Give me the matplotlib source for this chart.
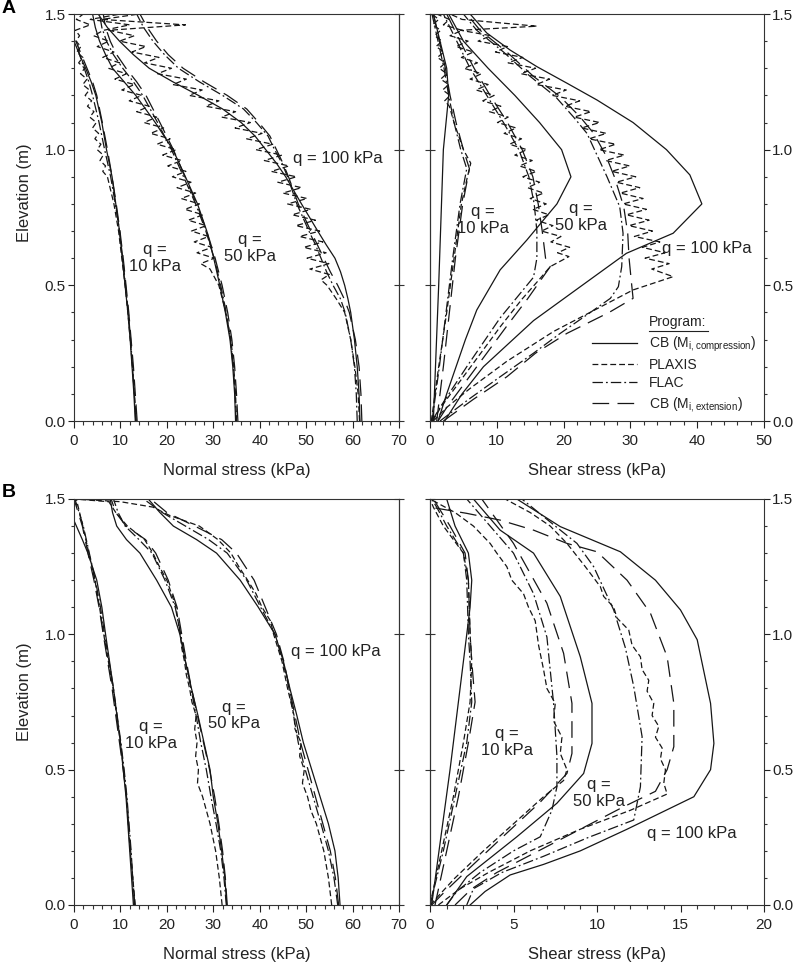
import matplotlib
matplotlib.use("Agg")
import matplotlib.pyplot as plt
from matplotlib.ticker import MultipleLocator, FormatStrFormatter, NullLocator

plt.rcParams['font.family'] = ['Liberation Sans', 'DejaVu Sans']
plt.rcParams['mathtext.fontset'] = 'custom'
plt.rcParams['mathtext.rm'] = 'Liberation Sans'
plt.rcParams['lines.scale_dashes'] = False

# ---------------- A: normal stress ----------------
an10_z = [0.0, 0.1, 0.2, 0.3, 0.4, 0.5, 0.6, 0.7, 0.8, 0.9, 1.0, 1.1, 1.2, 1.25, 1.3, 1.35, 1.4]
an10_cb = [13.2, 12.9, 12.5, 12.1, 11.6, 11.0, 10.4, 9.8, 9.0, 8.2, 7.0, 6.0, 4.7, 3.7, 2.5, 1.2, 0.0]
an10_flac = [13.3, 13.0, 12.6, 12.2, 11.7, 11.1, 10.5, 9.8, 8.9, 7.9, 6.6, 5.4, 4.0, 3.2, 2.2, 1.2, 0.6]
an10_ext = [13.6, 13.2, 12.8, 12.3, 11.8, 11.2, 10.6, 9.9, 9.1, 8.2, 7.2, 6.1, 4.9, 4.0, 2.8, 1.6, 0.4]
an10_px_z = [0.0, 0.1, 0.2, 0.3, 0.4, 0.5, 0.6, 0.7, 0.8, 0.9, 0.92, 0.94, 0.96, 0.98, 1.0,
             1.02, 1.04, 1.06, 1.08, 1.1, 1.12, 1.14, 1.16, 1.18, 1.2, 1.22, 1.24, 1.26, 1.28, 1.3,
             1.32, 1.34, 1.36, 1.38, 1.4, 1.42, 1.44, 1.46, 1.48, 1.5]
an10_px = [13.4, 13.0, 12.6, 12.1, 11.6, 11.0, 10.3, 9.6, 8.6, 7.2, 6.2, 6.8, 5.6, 6.3, 5.0,
           5.8, 4.5, 5.3, 4.0, 4.8, 3.4, 4.3, 2.9, 3.8, 2.4, 3.3, 1.9, 2.8, 1.4, 2.3,
           1.0, 1.9, 0.6, 1.5, 0.4, 1.2, 0.3, 3.5, 0.5, 2.0]

an50_z = [0.0, 0.1, 0.2, 0.3, 0.4, 0.5, 0.6, 0.7, 0.8, 0.9, 1.0, 1.1, 1.2, 1.25, 1.3, 1.35, 1.4, 1.45, 1.5]
an50_cb = [34.8, 34.6, 34.2, 33.6, 32.6, 31.4, 30.1, 28.6, 26.6, 24.0, 21.3, 17.5, 13.3, 10.8, 8.3, 6.8, 5.5, 4.6, 4.0]
an50_flac = [34.9, 34.7, 34.3, 33.7, 32.8, 31.6, 30.2, 28.4, 26.2, 23.6, 21.0, 18.0, 14.8, 12.8, 10.5, 8.5, 7.0, 6.0, 5.5]
an50_ext = [35.3, 35.0, 34.6, 34.0, 33.1, 31.9, 30.4, 28.6, 26.4, 23.9, 21.4, 18.5, 15.5, 13.5, 11.2, 9.2, 7.8, 6.8, 6.3]
an50_px_z = [0.0, 0.1, 0.2, 0.3, 0.4, 0.5,
             0.56, 0.58, 0.60, 0.62, 0.64, 0.66, 0.68, 0.70, 0.72, 0.74, 0.76, 0.78, 0.80,
             0.82, 0.84, 0.86, 0.88, 0.90, 0.92, 0.94, 0.96, 0.98, 1.00,
             1.02, 1.04, 1.06, 1.08, 1.10, 1.12, 1.14, 1.16, 1.18, 1.20,
             1.22, 1.24, 1.26, 1.28, 1.30, 1.32, 1.34, 1.36, 1.38, 1.40,
             1.42, 1.44, 1.46, 1.48, 1.50]
an50_px = [35.0, 34.8, 34.4, 33.8, 32.7, 31.2,
           29.3, 27.3, 30.2, 26.5, 29.7, 25.9, 29.0, 25.3, 28.5, 24.6, 27.8, 23.9, 27.0,
           23.1, 26.2, 22.2, 25.2, 21.2, 24.1, 20.2, 23.2, 19.1, 22.0,
           17.9, 20.7, 16.5, 19.3, 15.1, 17.8, 13.5, 16.2, 11.9, 14.6,
           10.3, 13.0, 8.8, 11.3, 7.4, 9.8, 6.2, 8.6, 5.0, 7.5,
           4.2, 6.4, 12.0, 3.5, 10.0]

an100_z = [0.0, 0.1, 0.2, 0.3, 0.4, 0.45, 0.5, 0.55, 0.6, 0.65, 0.7, 0.8, 0.9, 0.95, 1.0,
           1.05, 1.1, 1.15, 1.2, 1.25, 1.3, 1.35, 1.4, 1.45, 1.5]
an100_cb = [61.6, 61.4, 61.0, 60.4, 59.6, 59.0, 58.3, 57.4, 56.2, 54.3, 52.5, 49.0, 45.6, 43.6, 41.3,
            39.0, 36.0, 32.0, 26.8, 21.3, 16.2, 12.8, 9.8, 7.2, 5.2]
an100_flac = [61.0, 60.8, 60.4, 59.6, 58.4, 57.4, 55.8, 54.4, 53.2, 52.0, 50.6, 48.0, 46.0, 44.8, 43.2,
              41.8, 39.3, 36.5, 32.0, 27.0, 22.5, 19.5, 17.0, 15.0, 13.5]
an100_ext = [62.0, 61.8, 61.4, 60.6, 59.3, 58.2, 56.8, 55.2, 53.8, 52.4, 51.0, 48.3, 46.2, 45.0, 43.6,
             42.2, 39.8, 37.2, 33.0, 28.0, 23.5, 20.3, 17.8, 15.8, 14.2]
an100_px_z = [0.0, 0.1, 0.2, 0.3, 0.4, 0.45, 0.50,
              0.52, 0.54, 0.56, 0.58, 0.60, 0.62, 0.64, 0.66, 0.68, 0.70, 0.72, 0.74, 0.76, 0.78, 0.80,
              0.82, 0.84, 0.86, 0.88, 0.90, 0.92, 0.94, 0.96, 0.98, 1.00,
              1.02, 1.04, 1.06, 1.08, 1.10, 1.12, 1.14, 1.16, 1.18, 1.20,
              1.22, 1.24, 1.26, 1.28, 1.30, 1.32, 1.34, 1.36, 1.38, 1.40,
              1.42, 1.44, 1.46, 1.48, 1.50]
an100_px = [61.5, 61.2, 60.5, 59.6, 58.3, 56.5, 54.5,
            53.2, 55.0, 50.8, 54.9, 50.2, 54.3, 49.5, 53.6, 48.6, 52.9, 47.8, 52.0, 47.0, 51.0, 46.0,
            50.2, 45.0, 49.0, 43.9, 47.9, 42.5, 46.3, 41.0, 44.8, 39.2,
            42.8, 37.2, 40.5, 34.7, 38.0, 31.8, 34.8, 28.4, 31.2, 24.8,
            27.6, 21.3, 24.2, 18.0, 21.0, 15.2, 18.3, 12.5, 15.5, 9.8,
            13.0, 7.5, 24.0, 6.0, 14.0]

# ---------------- A: shear stress ----------------
as10_cb_z = [0.0, 0.5, 1.0, 1.1, 1.2, 1.3, 1.4, 1.5]
as10_cb = [0.5, 1.3, 2.0, 2.4, 2.8, 2.5, 1.5, 0.5]
as10_z = [0.0, 0.2, 0.4, 0.6, 0.8, 0.93, 1.0, 1.1, 1.2, 1.3, 1.4, 1.5]
as10_flac = [0.3, 1.4, 2.4, 3.4, 4.5, 5.5, 4.6, 3.6, 2.8, 2.1, 1.2, 0.3]
as10_ext = [1.0, 2.0, 2.9, 3.8, 4.9, 5.9, 5.0, 3.9, 3.0, 2.3, 1.4, 0.5]
as10_px_z = [0.0, 0.2, 0.4, 0.6, 0.8, 0.9, 0.95, 1.0, 1.1, 1.16, 1.18, 1.2, 1.22, 1.24,
             1.26, 1.28, 1.3, 1.32, 1.34, 1.36, 1.38, 1.4, 1.42, 1.44, 1.46, 1.48, 1.5]
as10_px = [0.2, 1.3, 2.5, 3.6, 4.7, 5.6, 6.1, 5.0, 3.6, 2.9, 2.2, 3.0, 1.9, 2.8,
           1.6, 2.5, 1.4, 2.3, 1.1, 2.1, 0.9, 1.8, 0.7, 1.6, 0.4, 1.3, 0.3]

as50_cb_z = [0.0, 0.1, 0.2, 0.3, 0.409, 0.557, 0.667, 0.75, 0.80, 0.90, 1.0, 1.1, 1.2, 1.3, 1.4, 1.5]
as50_cb = [1.2, 2.5, 3.9, 5.3, 7.0, 10.5, 14.5, 17.3, 19.0, 21.1, 19.7, 16.4, 12.7, 8.7, 5.0, 2.8]
as50_flac_z = [0.0, 0.05, 0.2, 0.38, 0.53, 0.6, 0.7, 0.8, 0.9, 1.0, 1.1, 1.2, 1.3, 1.4, 1.5]
as50_flac = [0.3, 1.5, 5.5, 10.5, 15.5, 16.0, 16.0, 15.6, 14.8, 13.3, 11.0, 8.5, 6.0, 4.0, 2.0]
as50_ext_z = [0.0, 0.05, 0.15, 0.25, 0.35, 0.45, 0.569, 0.6, 0.7, 0.8, 0.9, 1.0, 1.1, 1.2, 1.3, 1.4, 1.5]
as50_ext = [1.2, 2.5, 5.5, 8.5, 11.5, 14.6, 18.0, 17.3, 16.8, 16.2, 15.4, 13.8, 11.6, 9.0, 6.6, 4.5, 2.5]
as50_px_z = [0.0, 0.05, 0.15, 0.25, 0.35, 0.45, 0.52, 0.569, 0.606,
             0.62, 0.64, 0.66, 0.68, 0.70, 0.72, 0.74, 0.76, 0.78, 0.80,
             0.82, 0.84, 0.86, 0.88, 0.90, 0.92, 0.94, 0.96, 0.98, 1.00,
             1.02, 1.04, 1.06, 1.08, 1.10, 1.12, 1.14, 1.16, 1.18, 1.20,
             1.22, 1.24, 1.26, 1.28, 1.30, 1.32, 1.34, 1.36, 1.38, 1.40,
             1.42, 1.44, 1.46, 1.48, 1.50]
as50_px = [0.4, 1.6, 4.6, 7.6, 10.6, 13.8, 16.3, 18.0, 20.8,
           19.1, 20.9, 18.1, 19.6, 16.7, 18.4, 15.9, 17.8, 15.4, 17.4,
           15.0, 17.0, 14.6, 16.4, 13.9, 15.9, 13.4, 15.3, 12.7, 14.5,
           11.9, 13.7, 11.1, 12.9, 10.1, 11.7, 8.9, 10.6, 7.9, 9.6,
           6.9, 8.7, 6.0, 7.7, 5.1, 7.1, 4.7, 6.5, 3.9, 5.7,
           3.0, 4.8, 2.0, 2.9, 1.0]

as100_cb_z = [0.0, 0.1, 0.2, 0.37, 0.495, 0.618, 0.692, 0.80, 0.907, 1.0, 1.1, 1.183, 1.245,
              1.306, 1.367, 1.43, 1.5]
as100_cb = [2.2, 4.8, 8.0, 15.5, 22.5, 29.4, 36.4, 40.7, 38.9, 35.4, 30.4, 25.0, 20.5,
            16.0, 12.0, 8.5, 6.0]
as100_flac_z = [0.0, 0.08, 0.163, 0.25, 0.323, 0.40, 0.452, 0.495, 0.569, 0.692, 0.79, 0.9, 0.98,
                1.06, 1.12, 1.195, 1.27, 1.36, 1.44, 1.5]
as100_flac = [1.5, 5.8, 10.5, 15.5, 19.5, 24.0, 27.0, 28.2, 28.7, 28.9, 28.4, 26.5, 25.0,
              23.5, 21.5, 18.8, 15.0, 11.0, 7.0, 5.0]
as100_ext_z = [0.0, 0.08, 0.163, 0.25, 0.323, 0.40, 0.452, 0.5, 0.6, 0.692, 0.79, 0.9, 0.98,
               1.06, 1.12, 1.195, 1.27, 1.36, 1.44, 1.5]
as100_ext = [2.0, 6.5, 11.5, 15.8, 20.5, 26.8, 30.4, 30.2, 29.8, 29.6, 29.0, 27.6, 26.3,
             24.5, 22.5, 19.5, 15.5, 11.5, 7.5, 5.5]
as100_px_z = [0.0, 0.05, 0.12, 0.22, 0.33, 0.42, 0.483, 0.532,
              0.56, 0.58, 0.60, 0.62, 0.64, 0.66, 0.68, 0.70, 0.72, 0.74, 0.76, 0.78, 0.80,
              0.82, 0.84, 0.86, 0.88, 0.90, 0.92, 0.94, 0.96, 0.98, 1.00,
              1.02, 1.04, 1.06, 1.08, 1.10, 1.12, 1.14, 1.16, 1.18, 1.20,
              1.22, 1.24, 1.26, 1.28, 1.30, 1.32, 1.34, 1.36, 1.38, 1.40,
              1.42, 1.44, 1.455, 1.48, 1.50]
as100_px = [0.5, 2.5, 6.0, 11.5, 18.5, 25.5, 30.4, 36.4,
            33.2, 35.8, 32.2, 35.2, 31.8, 34.4, 30.6, 33.3, 29.8, 32.8, 29.4, 32.4, 28.9,
            31.9, 28.5, 31.4, 27.9, 30.8, 27.2, 29.9, 26.3, 29.1, 25.3,
            27.8, 23.8, 26.4, 22.7, 25.4, 21.6, 24.1, 20.2, 22.4, 18.3,
            20.4, 15.9, 17.9, 13.6, 15.8, 11.7, 13.9, 9.8, 11.6, 7.2,
            9.1, 4.6, 16.0, 4.8, 3.0]

# ---------------- B: normal stress ----------------
bn10_cb_z = [0.0, 0.2, 0.4, 0.5, 0.6, 0.8, 1.0, 1.1, 1.2, 1.3, 1.35, 1.42]
bn10_cb = [12.8, 12.0, 11.2, 10.6, 10.0, 8.5, 6.8, 6.0, 4.9, 3.0, 1.8, 0.0]
bn10_z = [0.0, 0.2, 0.4, 0.5, 0.6, 0.8, 1.0, 1.1, 1.2, 1.3, 1.4, 1.5]
bn10_flac = [13.0, 12.3, 11.4, 10.8, 10.1, 8.5, 6.6, 5.7, 4.6, 3.3, 2.0, 0.2]
bn10_ext = [13.1, 12.2, 11.3, 10.6, 9.8, 8.2, 6.3, 5.4, 4.3, 3.0, 1.8, 0.0]
bn10_px = [13.2, 12.1, 11.3, 10.7, 10.0, 8.4, 6.4, 5.5, 4.5, 3.2, 1.9, 0.5]

bn50_z = [0.0, 0.1, 0.2, 0.3, 0.4, 0.5, 0.6, 0.7, 0.8, 0.9, 1.0, 1.1, 1.2, 1.3, 1.35, 1.4, 1.45, 1.5]
bn50_cb = [32.9, 32.5, 31.8, 31.0, 30.0, 29.3, 28.0, 26.7, 25.3, 24.0, 22.8, 21.0, 17.8, 14.2, 11.3, 9.2, 8.3, 7.8]
bn50_ext = [33.0, 32.6, 32.0, 31.2, 30.3, 29.2, 27.9, 26.6, 25.3, 24.2, 23.2, 22.2, 20.3, 17.6, 15.4, 11.2, 9.0, 8.0]
bn50_flac = [32.8, 32.3, 31.6, 30.6, 29.5, 28.5, 27.3, 26.3, 25.2, 24.0, 23.0, 21.8, 19.6, 16.8, 14.0, 11.0, 9.5, 8.5]
bn50_px_z = [0.0, 0.1, 0.2, 0.3, 0.4, 0.45, 0.5, 0.55, 0.6, 0.65, 0.7, 0.75, 0.8, 0.85, 0.9, 0.95,
             1.0, 1.05, 1.1, 1.15, 1.2, 1.25, 1.3, 1.35, 1.4, 1.45, 1.49, 1.5]
bn50_px = [31.9, 31.3, 30.5, 29.3, 27.7, 26.6, 26.8, 26.2, 26.5, 26.0, 26.3, 25.4, 24.9, 24.2, 23.8, 23.2,
           22.9, 22.4, 22.0, 21.0, 20.0, 18.4, 17.0, 15.2, 11.5, 9.0, 7.5, 0.0]

bn100_z = [0.0, 0.1, 0.2, 0.3, 0.4, 0.5, 0.6, 0.7, 0.8, 0.9, 1.0, 1.1, 1.2, 1.3, 1.35, 1.4, 1.45, 1.5]
bn100_cb = [57.3, 56.9, 56.2, 54.8, 53.0, 51.2, 49.4, 48.0, 46.5, 45.1, 43.3, 39.7, 35.8, 30.7, 26.4, 21.4, 18.5, 16.0]
bn100_ext = [57.0, 56.3, 55.2, 53.6, 52.0, 50.4, 48.8, 47.6, 46.4, 45.2, 43.6, 41.2, 38.8, 35.0, 31.8, 26.0, 20.0, 16.5]
bn100_flac = [56.8, 56.0, 54.8, 53.2, 51.5, 49.8, 48.3, 47.3, 46.3, 45.0, 43.3, 40.2, 37.2, 33.0, 29.0, 24.0, 19.0, 15.0]
bn100_px_z = [0.0, 0.1, 0.2, 0.3, 0.35, 0.4, 0.45, 0.5, 0.55, 0.6, 0.65, 0.7, 0.8, 0.9, 1.0, 1.05,
              1.1, 1.15, 1.2, 1.25, 1.3, 1.35, 1.4, 1.44, 1.47, 1.49, 1.5]
bn100_px = [55.5, 54.8, 53.8, 52.2, 51.0, 50.3, 49.2, 49.6, 48.6, 48.9, 47.6, 47.4, 46.0, 44.8, 43.0, 42.3,
            40.5, 39.2, 37.4, 35.5, 33.8, 31.0, 27.0, 20.5, 17.0, 10.0, 0.5]

# ---------------- B: shear stress ----------------
bs10_cb_z = [0.0, 0.5, 1.0, 1.1, 1.2, 1.3, 1.4, 1.5]
bs10_cb = [0.1, 1.2, 2.2, 2.4, 2.5, 2.3, 1.5, 1.0]
bs10_z = [0.0, 0.2, 0.4, 0.6, 0.75, 0.9, 1.0, 1.2, 1.3, 1.4, 1.47, 1.5]
bs10_ext = [0.3, 1.0, 1.7, 2.3, 2.7, 2.5, 2.4, 2.3, 2.1, 1.2, 0.5, 0.2]
bs10_flac = [0.0, 0.8, 1.5, 2.2, 2.5, 2.4, 2.3, 2.2, 2.0, 1.0, 0.4, 0.1]
bs10_px = [0.0, 0.7, 1.4, 2.0, 2.4, 2.5, 2.4, 2.3, 2.0, 0.8, 0.2, 0.0]

bs50_cb_z = [0.0, 0.105, 0.252, 0.376, 0.486, 0.597, 0.745, 0.917, 1.14, 1.3, 1.385, 1.5]
bs50_cb = [1.0, 2.2, 5.2, 7.6, 9.2, 9.7, 9.7, 9.0, 7.8, 6.2, 4.2, 2.6]
bs50_ext_z = [0.0, 0.05, 0.15, 0.26, 0.38, 0.486, 0.56, 0.745, 0.93, 1.115, 1.336, 1.5]
bs50_ext = [0.1, 0.9, 2.6, 4.5, 6.6, 8.2, 8.5, 8.5, 8.0, 7.0, 5.0, 3.1]
bs50_flac_z = [0.0, 0.05, 0.12, 0.2, 0.252, 0.35, 0.437, 0.55, 0.745, 0.99, 1.15, 1.3, 1.4, 1.5]
bs50_flac = [1.0, 1.6, 3.0, 5.0, 6.6, 7.3, 7.6, 7.6, 7.4, 7.0, 6.2, 5.0, 3.6, 2.2]
bs50_px_z = [0.0, 0.1, 0.2, 0.3, 0.4, 0.46, 0.5, 0.56, 0.62, 0.68, 0.745, 0.80, 0.87, 0.96, 1.05,
             1.10, 1.15, 1.20, 1.25, 1.30, 1.336, 1.40, 1.45, 1.5]
bs50_px = [0.0, 1.5, 3.2, 5.0, 6.8, 8.0, 8.2, 7.8, 7.9, 7.4, 7.5, 7.0, 6.8, 6.5, 6.3,
           5.9, 5.6, 4.9, 4.6, 4.0, 3.6, 2.6, 1.5, 0.0]

bs100_cb_z = [0.0, 0.05, 0.111, 0.15, 0.2, 0.28, 0.34, 0.4, 0.5, 0.597, 0.745, 0.98, 1.09, 1.2,
              1.305, 1.398, 1.5]
bs100_cb = [2.4, 3.3, 4.8, 6.8, 9.0, 11.8, 13.8, 15.8, 16.8, 17.0, 16.8, 16.0, 15.0, 13.5,
            11.4, 7.8, 5.2]
bs100_ext_z = [0.0, 0.06, 0.12, 0.2, 0.28, 0.36, 0.42, 0.5, 0.585, 0.745, 0.917, 1.078, 1.2,
               1.305, 1.336, 1.385, 1.422, 1.447, 1.47]
bs100_ext = [1.5, 2.5, 4.0, 6.5, 9.0, 11.5, 13.5, 14.2, 14.6, 14.6, 14.2, 13.2, 11.8,
             10.0, 8.2, 6.2, 4.2, 2.2, 0.0]
bs100_flac_z = [0.0, 0.06, 0.12, 0.18, 0.25, 0.314, 0.437, 0.622, 0.807, 0.95, 1.09, 1.25, 1.336, 1.4, 1.5]
bs100_flac = [2.2, 2.6, 4.3, 6.8, 9.5, 12.2, 12.6, 12.7, 12.2, 11.7, 11.0, 9.8, 8.8, 7.5, 5.5]
bs100_px_z = [0.0, 0.06, 0.12, 0.2, 0.28, 0.35, 0.41, 0.45, 0.5, 0.54, 0.58, 0.62, 0.66, 0.70, 0.745,
              0.79, 0.83, 0.87, 0.917, 0.96, 1.016, 1.06, 1.10, 1.14, 1.176, 1.25, 1.336, 1.40, 1.45, 1.5]
bs100_px = [0.5, 1.8, 3.5, 6.0, 9.0, 12.0, 14.2, 14.0, 14.1, 13.8, 13.9, 13.5, 13.7, 13.3, 13.4,
            13.0, 13.1, 12.7, 12.6, 12.1, 11.9, 11.2, 11.0, 10.4, 10.2, 9.3, 8.2, 7.2, 6.0, 4.5]

program_labels = [r'CB (M$_{\mathregular{i,compression}}$)', 'PLAXIS', 'FLAC',
                  r'CB (M$_{\mathregular{i,extension}}$)']

ink = '#161616'
lw = 0.9
styles = {
    'cb': dict(color=ink, lw=lw, ls='-'),
    'px': dict(color=ink, lw=lw, ls=(0, (4.2, 2.2))),
    'flac': dict(color=ink, lw=lw, ls=(0, (7.5, 2.2, 1.3, 2.2))),
    'ext': dict(color=ink, lw=lw, ls=(0, (12, 6))),
}

fig = plt.figure(figsize=(7.96, 9.66), dpi=100)
W, H = 796, 966
ax_an = fig.add_axes([74 / W, 1 - 421 / H, 325 / W, 407 / H])
ax_as = fig.add_axes([430 / W, 1 - 421 / H, 334 / W, 407 / H])
ax_bn = fig.add_axes([74 / W, 1 - 905 / H, 325 / W, 406 / H])
ax_bs = fig.add_axes([430 / W, 1 - 905 / H, 334 / W, 406 / H])


def frame(ax, xmax, major, minor, xlabel, right, ylab_y):
    ax.set_xlim(0, xmax)
    ax.set_ylim(0, 1.5)
    ax.xaxis.set_major_locator(MultipleLocator(major))
    ax.xaxis.set_minor_locator(MultipleLocator(minor))
    ax.yaxis.set_major_locator(MultipleLocator(0.5))
    ax.yaxis.set_minor_locator(MultipleLocator(0.1))
    ax.yaxis.set_major_formatter(FormatStrFormatter('%.1f'))
    for s in ax.spines.values():
        s.set_linewidth(0.8)
        s.set_color('#333333')
    ax.tick_params(axis='x', which='major', direction='out', length=5, width=0.8, pad=4.5,
                   labelsize=11, colors='#222222')
    ax.tick_params(axis='x', which='minor', direction='out', length=2.8, width=0.8, colors='#333333')
    ax.tick_params(axis='y', which='major', direction='out', length=4.5, width=0.8, pad=1.5,
                   labelsize=11, colors='#222222')
    ax.tick_params(axis='y', which='minor', direction='out', length=2.5, width=0.8, colors='#333333')
    ax.set_xlabel(xlabel, fontsize=12, color='#222222')
    ax.xaxis.set_label_coords(0.5, -0.104)
    if right:
        ax.yaxis.tick_right()
        other = ax.secondary_yaxis('left')
    else:
        ax.set_ylabel('Elevation (m)', fontsize=12, color='#222222')
        ax.yaxis.set_label_coords(-0.13, ylab_y)
        other = ax.secondary_yaxis('right')
    other.yaxis.set_major_locator(MultipleLocator(0.5))
    other.yaxis.set_minor_locator(NullLocator())
    other.tick_params(which='major', direction='inout', length=7, width=0.8, colors='#333333',
                      labelleft=False, labelright=False)
    other.spines[:].set_linewidth(0.8)


def draw(ax, curves):
    lines = {}
    for z, v, key in curves:
        lines[key] = ax.plot(v, z, **styles[key])[0]
    return lines


draw(ax_an, [(an10_px_z, an10_px, 'px'), (an50_px_z, an50_px, 'px'), (an100_px_z, an100_px, 'px'),
             (an10_z, an10_flac, 'flac'), (an50_z, an50_flac, 'flac'), (an100_z, an100_flac, 'flac'),
             (an10_z, an10_ext, 'ext'), (an50_z, an50_ext, 'ext'), (an100_z, an100_ext, 'ext'),
             (an10_z, an10_cb, 'cb'), (an50_z, an50_cb, 'cb'), (an100_z, an100_cb, 'cb')])
leg_lines = draw(ax_as, [(as10_px_z, as10_px, 'px'), (as50_px_z, as50_px, 'px'), (as100_px_z, as100_px, 'px'),
                         (as10_z, as10_flac, 'flac'), (as50_flac_z, as50_flac, 'flac'),
                         (as100_flac_z, as100_flac, 'flac'),
                         (as10_z, as10_ext, 'ext'), (as50_ext_z, as50_ext, 'ext'), (as100_ext_z, as100_ext, 'ext'),
                         (as10_cb_z, as10_cb, 'cb'), (as50_cb_z, as50_cb, 'cb'), (as100_cb_z, as100_cb, 'cb')])
draw(ax_bn, [(bn10_z, bn10_px, 'px'), (bn50_px_z, bn50_px, 'px'), (bn100_px_z, bn100_px, 'px'),
             (bn10_z, bn10_flac, 'flac'), (bn50_z, bn50_flac, 'flac'), (bn100_z, bn100_flac, 'flac'),
             (bn10_z, bn10_ext, 'ext'), (bn50_z, bn50_ext, 'ext'), (bn100_z, bn100_ext, 'ext'),
             (bn10_cb_z, bn10_cb, 'cb'), (bn50_z, bn50_cb, 'cb'), (bn100_z, bn100_cb, 'cb')])
draw(ax_bs, [(bs10_z, bs10_px, 'px'), (bs50_px_z, bs50_px, 'px'), (bs100_px_z, bs100_px, 'px'),
             (bs10_z, bs10_flac, 'flac'), (bs50_flac_z, bs50_flac, 'flac'), (bs100_flac_z, bs100_flac, 'flac'),
             (bs10_z, bs10_ext, 'ext'), (bs50_ext_z, bs50_ext, 'ext'), (bs100_ext_z, bs100_ext, 'ext'),
             (bs10_cb_z, bs10_cb, 'cb'), (bs50_cb_z, bs50_cb, 'cb'), (bs100_cb_z, bs100_cb, 'cb')])

frame(ax_an, 70, 10, 2, 'Normal stress (kPa)', False, 0.56)
frame(ax_as, 50, 10, 2, 'Shear stress (kPa)', True, 0.56)
frame(ax_bn, 70, 10, 2, 'Normal stress (kPa)', False, 0.525)
frame(ax_bs, 20, 5, 1, 'Shear stress (kPa)', True, 0.525)

lab = dict(fontsize=12, ha='center', va='center', multialignment='center', color='#222222', linespacing=1.15)
ax_an.text(56.9, 0.969, 'q = 100 kPa', **lab)
ax_an.text(17.4, 0.60, 'q =\n10 kPa', **lab)
ax_an.text(37.9, 0.638, 'q =\n50 kPa', **lab)
ax_as.text(7.9, 0.74, 'q =\n10 kPa', **lab)
ax_as.text(22.6, 0.752, 'q =\n50 kPa', **lab)
ax_as.text(41.4, 0.637, 'q = 100 kPa', **lab)
ax_bn.text(56.4, 0.936, 'q = 100 kPa', **lab)
ax_bn.text(16.6, 0.628, 'q =\n10 kPa', **lab)
ax_bn.text(34.5, 0.70, 'q =\n50 kPa', **lab)
ax_bs.text(4.6, 0.603, 'q =\n10 kPa', **lab)
ax_bs.text(10.1, 0.413, 'q =\n50 kPa', **lab)
ax_bs.text(15.7, 0.265, 'q = 100 kPa', **lab)

# legend
leg = ax_as.legend([leg_lines['cb'], leg_lines['px'], leg_lines['flac'], leg_lines['ext']],
                   program_labels, loc='upper left', bbox_to_anchor=(0.485, 0.212),
                   frameon=False, fontsize=10, handlelength=3.25, handletextpad=0.85,
                   labelspacing=0.3, borderpad=0, borderaxespad=0)
for t in leg.get_texts():
    t.set_color('#222222')
ax_as.text(0.656, 0.243, 'Program:', transform=ax_as.transAxes, fontsize=10, va='center',
           ha='left', color='#222222')
ax_as.plot([0.656, 0.833], [0.222, 0.222], transform=ax_as.transAxes, color='#222222', lw=0.8)

fig.text(2 / W, 1.0, 'A', fontsize=14, fontweight='bold', va='top', ha='left')
fig.text(2 / W, 1 - 484 / H, 'B', fontsize=14, fontweight='bold', va='top', ha='left')

fig.savefig('out.png', dpi=100)
